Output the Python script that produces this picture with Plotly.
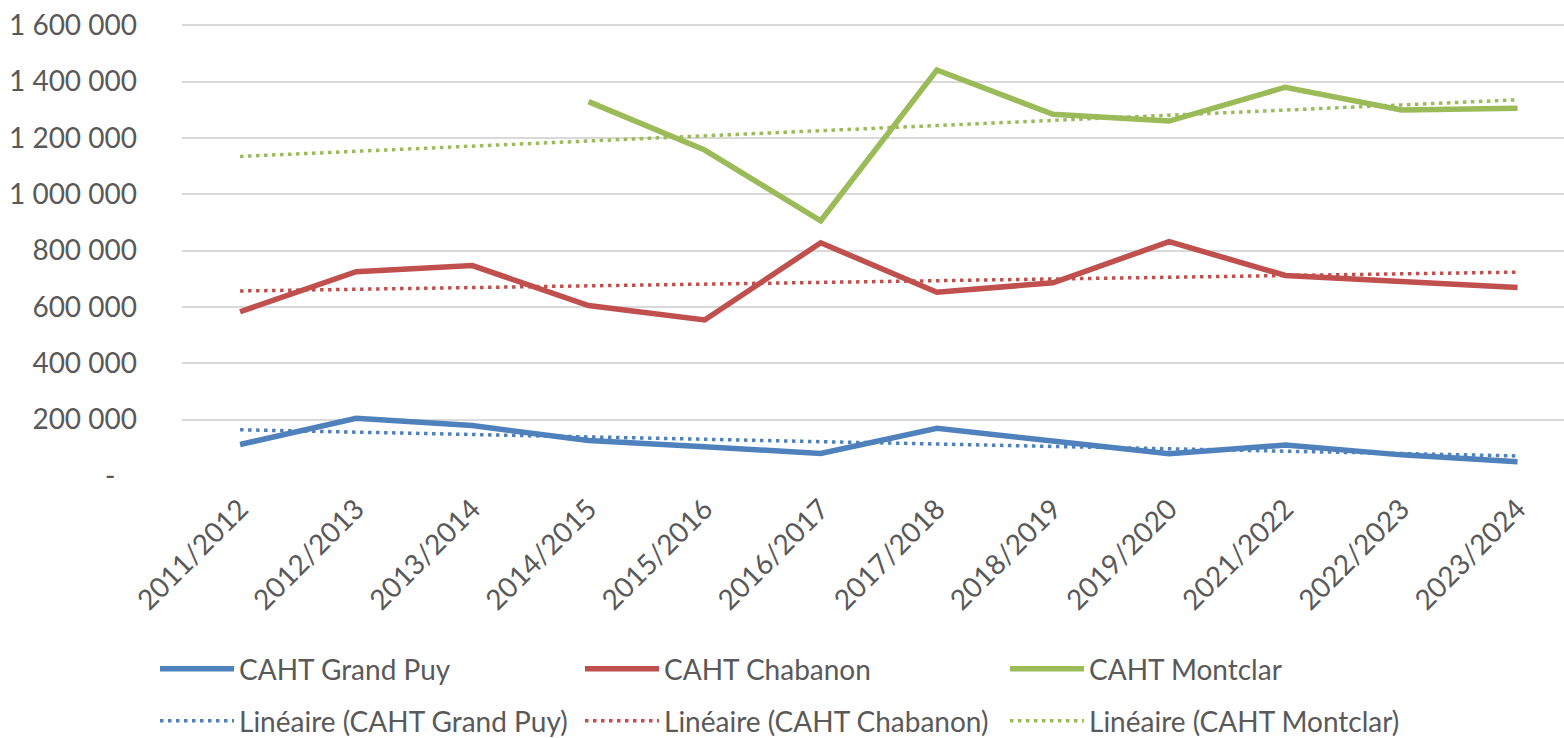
import numpy as np
import plotly.graph_objects as go

categories = ["2011/2012", "2012/2013", "2013/2014", "2014/2015", "2015/2016", "2016/2017",
              "2017/2018", "2018/2019", "2019/2020", "2021/2022", "2022/2023", "2023/2024"]
grand_puy = [112000, 205000, 179000, 126000, 104000, 80000, 169000, 122000, 79000, 110000, 75000, 51000]
chabanon = [583000, 725000, 747000, 605000, 554000, 828000, 652000, 686000, 832000, 712000, 690000, 669000]
montclar = [None, None, None, 1329000, 1157000, 906000, 1441000, 1284000, 1260000, 1380000, 1299000, 1305000]
series_names = ["CAHT Grand Puy", "CAHT Chabanon", "CAHT Montclar"]
colors = ["#4F81BD", "#C0504D", "#9BBB59"]
y_ticks = [0, 200000, 400000, 600000, 800000, 1000000, 1200000, 1400000, 1600000]

FONT = "Lato, 'Open Sans', sans-serif"
TXT = "#595959"


def trend(values):
    xs = np.array([i + 1 for i, v in enumerate(values) if v is not None], dtype=float)
    ys = np.array([v for v in values if v is not None], dtype=float)
    a, b = np.polyfit(xs, ys, 1)
    allx = np.arange(1, len(values) + 1)
    return list(a * allx + b)


def fmt(v):
    if v == 0:
        return "-\u00a0\u00a0\u00a0"
    return f"{v:,}".replace(",", " ")


fig = go.Figure()
all_series = [grand_puy, chabanon, montclar]
for name, vals, col in zip(series_names, all_series, colors):
    fig.add_trace(go.Scatter(x=categories, y=vals, name=name, mode="lines",
                             line=dict(color=col, width=5.5), legend="legend"))
for name, vals, col in zip(series_names, all_series, colors):
    fig.add_trace(go.Scatter(x=categories, y=trend(vals), name=f"Linéaire ({name})", mode="lines",
                             line=dict(color=col, width=3.5, dash="3.5px,4.5px"), legend="legend2"))

legend_common = dict(orientation="h", xref="container", yref="container", xanchor="left", yanchor="middle",
                     font=dict(family=FONT, size=28, color=TXT), entrywidth=336, entrywidthmode="pixels",
                     itemwidth=74, bgcolor="rgba(0,0,0,0)", tracegroupgap=0)

fig.update_layout(
    width=1564, height=738,
    margin=dict(l=182, r=0, t=23, b=262, pad=0, autoexpand=False),
    paper_bgcolor="white", plot_bgcolor="white",
    font=dict(family=FONT, size=28, color=TXT),
    showlegend=True,
    legend=dict(x=155 / 1564, y=1 - 669 / 738, **legend_common),
    legend2=dict(x=155 / 1564, y=1 - 721 / 738, **legend_common),
    xaxis=dict(type="category", range=[-0.5, 11.4], tickangle=-45, showgrid=False,
               tickfont=dict(family=FONT, size=28, color=TXT), ticks="", showline=False,
               ticklabelstandoff=10, automargin=False),
    yaxis=dict(range=[0, 1608000], tickvals=y_ticks, ticktext=[fmt(v) for v in y_ticks],
               showgrid=True, gridcolor="#D9D9D9", gridwidth=1.5, zeroline=False,
               tickfont=dict(family=FONT, size=28, color=TXT), ticklabelstandoff=44, automargin=False),
)

fig.write_html("out.html", include_plotlyjs=True, full_html=True,
               config={"displayModeBar": False},
               post_script="document.body.style.margin='0';document.body.style.overflow='hidden';")
